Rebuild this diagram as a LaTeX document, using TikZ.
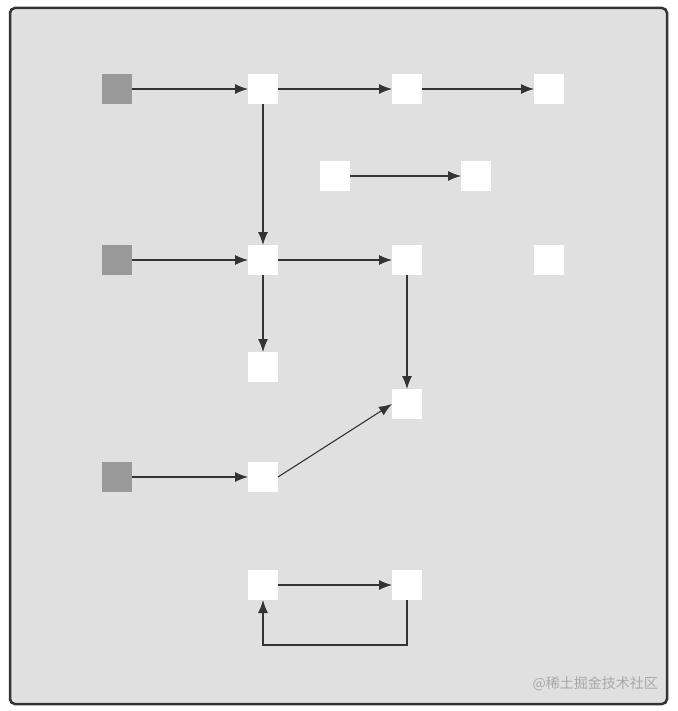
\documentclass[tikz,border=0pt]{standalone}
\usepackage{fontspec}
\newfontfamily\cjk{Noto Sans CJK SC}
\usetikzlibrary{arrows.meta}
\definecolor{bgfill}{HTML}{E0E0E0}
\definecolor{framec}{HTML}{333333}
\definecolor{graysq}{HTML}{999999}
\definecolor{linec}{HTML}{333333}
\definecolor{wmc}{HTML}{A8A8A8}
\tikzset{
  wsq/.style={fill=white, draw=none, minimum size=30pt, inner sep=0pt, outer sep=0pt},
  gsq/.style={fill=graysq, draw=none, minimum size=30pt, inner sep=0pt, outer sep=0pt},
  conn/.style={draw=linec, line width=1.1pt, -{Latex[length=13pt,width=10pt]}}
}
\begin{document}
\begin{tikzpicture}[x=1pt,y=-1pt]
\useasboundingbox (0,0) rectangle (677,711);
\fill[white] (0,0) rectangle (677,711);
\draw[draw=framec, fill=bgfill, line width=2.5pt, rounded corners=5pt] (10,8) rectangle (667,704);
% row 1
\node[gsq] (g1) at (117,89) {};
\node[wsq] (a1) at (263,89) {};
\node[wsq] (a2) at (407,89) {};
\node[wsq] (a3) at (549,89) {};
% row 2
\node[wsq] (b1) at (335,176) {};
\node[wsq] (b2) at (476,176) {};
% row 3
\node[gsq] (g2) at (117,260) {};
\node[wsq] (c1) at (263,260) {};
\node[wsq] (c2) at (407,260) {};
\node[wsq] (c3) at (549,260) {};
% others
\node[wsq] (d1) at (263,367) {};
\node[wsq] (d2) at (407,404) {};
\node[gsq] (g3) at (117,477) {};
\node[wsq] (e1) at (263,477) {};
\node[wsq] (f1) at (263,585) {};
\node[wsq] (f2) at (407,585) {};
% connectors
\draw[conn] (g1) -- (a1);
\draw[conn] (a1) -- (a2);
\draw[conn] (a2) -- (a3);
\draw[conn] (b1) -- (b2);
\draw[conn] (a1) -- (c1);
\draw[conn] (g2) -- (c1);
\draw[conn] (c1) -- (c2);
\draw[conn] (c1) -- (d1);
\draw[conn] (c2) -- (d2);
\draw[conn] (g3) -- (e1);
\draw[conn] (e1.east) -- (d2.west);
\draw[conn] (f1) -- (f2);
\coordinate (lr) at (407,645);
\coordinate (ll) at (263,645);
\draw[conn] (f2.south) -- (lr) -- (ll) -- (f1.south);
\node[anchor=east, text=wmc, font=\cjk\fontsize{14pt}{16pt}\selectfont, inner sep=0pt] (wm) at (658,684) {@稀土掘金技术社区};
\end{tikzpicture}
\end{document}
